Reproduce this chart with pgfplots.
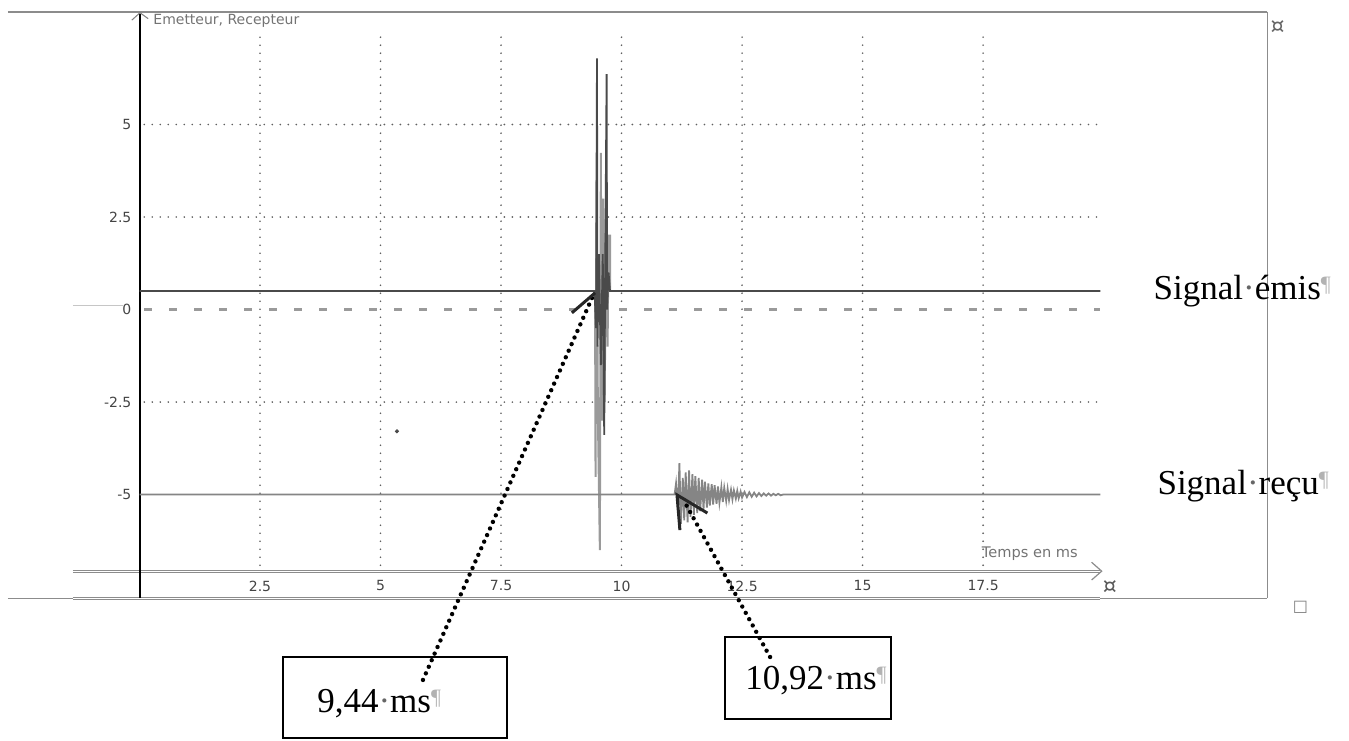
\documentclass[border=0pt]{standalone}
\usepackage{pgfplots}
\pgfplotsset{compat=1.18}
\usepackage{fontspec}
\setmainfont{Liberation Serif}
\newfontfamily\dv{DejaVu Sans}
\definecolor{trace}{HTML}{4A4A4A}
\definecolor{lighttrace}{HTML}{9A9A9A}
\definecolor{rtrace}{HTML}{858585}
\definecolor{gridc}{HTML}{606060}
\definecolor{framec}{HTML}{8C8C8C}
\definecolor{tickc}{HTML}{444444}
\newcommand{\bigtxt}{\fontsize{17.5}{20}\selectfont}
\newcommand{\pil}{{\color{gray!60}\fontsize{11}{11}\selectfont\raisebox{4pt}{¶}}}
\newcommand{\wsp}{{\color{gray!80!black}·}}
\begin{document}
\begin{tikzpicture}
\begin{axis}[
  x=24.1pt, y=18.5pt,
  xmin=-2.73, xmax=23.39, ymin=-7.80, ymax=8.09,
  hide axis, clip=false,
]
% bounding box of the whole picture
\path (axis cs:-2.894,8.365) rectangle (axis cs:25.09,-11.64);

% frame
\draw[framec, line width=1pt] (axis cs:-2.73,8.05) -- (axis cs:23.39,8.05);
\draw[framec, line width=0.5pt] (axis cs:23.39,8.05) -- (axis cs:23.39,-7.80);
\draw[framec, line width=0.5pt] (axis cs:-2.73,-7.80) -- (axis cs:23.39,-7.80);
\draw[framec, line width=0.5pt, double=white, double distance=0.45pt] (axis cs:-1.38,-7.80) -- (axis cs:19.93,-7.80);
\draw[gray!45, line width=0.4pt] (axis cs:-1.38,0.12) -- (axis cs:-0.34,0.12);

% dotted grid
\foreach \gx in {2.5,5,7.5,10,12.5,15,17.5}{
  \edef\tmp{\noexpand\draw[gridc, line width=0.9pt, line cap=round, dash pattern=on 0pt off 4pt] (axis cs:\gx,7.36) -- (axis cs:\gx,-7.07);}\tmp
}
\foreach \gy in {5,2.5,-2.5}{
  \edef\tmp{\noexpand\draw[gridc, line width=0.9pt, line cap=round, dash pattern=on 0pt off 4pt] (axis cs:0.1,\gy) -- (axis cs:19.93,\gy);}\tmp
}
% dashed zero line
\draw[lighttrace, line width=1.1pt, dash pattern=on 4pt off 8.5pt] (axis cs:0.1,0) -- (axis cs:19.93,0);

% x axis (double line with open arrow)
\draw[framec, line width=0.5pt, double=white, double distance=0.45pt] (axis cs:-1.38,-7.07) -- (axis cs:19.93,-7.07);
\draw[framec, line width=0.6pt] (axis cs:19.75,-6.83) -- (axis cs:19.96,-7.07) -- (axis cs:19.75,-7.31);

% y axis
\draw[black, line width=1.3pt] (axis cs:0.01,-7.80) -- (axis cs:0.01,7.98);
\draw[gray, line width=0.5pt] (axis cs:-0.16,7.82) -- (axis cs:0.01,8.02) -- (axis cs:0.18,7.86);

% tick labels
\foreach \v/\l in {2.5/2.5,5/5,7.5/7.5,10/10,12.5/12.5,15/15,17.5/17.5}{
  \edef\tmp{\noexpand\node[tickc, font=\noexpand\dv\noexpand\fontsize{7}{8}\noexpand\selectfont] at (axis cs:\v,-7.47) {\l};}\tmp
}
\foreach \v/\l in {5/5,2.5/2.5,0/0,-2.5/-2.5,-5/-5}{
  \edef\tmp{\noexpand\node[tickc, anchor=east, inner sep=0pt, font=\noexpand\dv\noexpand\fontsize{7}{8}\noexpand\selectfont] at (axis cs:-0.16,\v) {\l};}\tmp
}
\node[gray!90!black, anchor=west, inner sep=0pt, font=\dv\fontsize{7}{8}\selectfont] at (axis cs:0.28,7.80) {Emetteur, Recepteur};
\node[gray!90!black, inner sep=0pt, font=\dv\fontsize{7.3}{8}\selectfont] at (axis cs:18.47,-6.61) {Temps en ms};

% emitted signal
\addplot[lighttrace, line width=1pt] coordinates {
(9.45,0.5) (9.46,-4.52) (9.48,3.5) (9.51,-3.0) (9.55,-6.5) (9.57,4.23) (9.59,-3.0)
(9.62,3.0) (9.65,-2.5) (9.68,3.0) (9.71,-1.0) (9.73,2.0) (9.76,2.0) (9.76,0.5)
};
\addplot[trace, line width=0.9pt] coordinates {
(0,0.5) (9.44,0.5) (9.47,-0.5) (9.49,6.79) (9.50,-1.0) (9.53,1.5) (9.57,-1.5)
(9.61,1.5) (9.64,-3.39) (9.66,1.0)
(9.69,6.36) (9.70,0.0) (9.73,1.0) (9.76,0.5) (19.93,0.5)
};

% received signal
\addplot[rtrace, line width=0.9pt] coordinates {
(0,-5) (11.10,-5.0) (11.13,-4.7) (11.17,-5.4) (11.20,-4.15) (11.23,-5.8)
(11.27,-4.55) (11.30,-5.7) (11.33,-4.4) (11.37,-5.75) (11.40,-4.35) (11.43,-5.6)
(11.47,-4.45) (11.50,-5.55) (11.53,-4.5) (11.57,-5.5) (11.60,-4.55) (11.63,-5.45)
(11.67,-4.6) (11.70,-5.4) (11.73,-4.65) (11.77,-5.35) (11.80,-4.7) (11.83,-5.3)
(11.87,-4.72) (11.90,-5.27) (11.93,-4.75) (11.97,-5.25) (12.00,-4.78) (12.03,-5.22)
(12.07,-4.8) (12.10,-5.2) (12.13,-4.82) (12.17,-5.17) (12.20,-4.85) (12.23,-5.15)
(12.27,-4.87) (12.30,-5.13) (12.33,-4.89) (12.37,-5.11) (12.40,-4.9) (12.43,-5.1)
(12.47,-4.92) (12.50,-5.08) (12.55,-4.93) (12.60,-5.07) (12.65,-4.94) (12.70,-5.06)
(12.75,-4.95) (12.80,-5.05) (12.85,-4.96) (12.90,-5.04) (12.95,-4.97) (13.00,-5.03)
(13.05,-4.97) (13.10,-5.03) (13.15,-4.98) (13.20,-5.02) (13.25,-4.98) (13.30,-5.02)
(13.35,-5.0) (19.93,-5.0)
};

% stray dot
\addplot[only marks, mark=*, mark size=0.8pt, trace] coordinates {(5.34,-3.29)};

% right side labels
\node[anchor=base west, inner sep=0pt, font=\bigtxt] at (axis cs:21.03,0.26) {Signal\wsp émis\pil};
\node[anchor=base west, inner sep=0pt, font=\bigtxt] at (axis cs:21.11,-4.99) {Signal\wsp reçu\pil};

% Word markers
\node[gray!80!black, inner sep=0pt, font=\dv\fontsize{11}{11}\selectfont] at (axis cs:23.61,7.63) {¤};
\node[gray!70!black, inner sep=0pt, font=\dv\fontsize{11}{11}\selectfont] at (axis cs:20.13,-7.5) {¤};
\node[gray, inner sep=0pt, font=\dv\fontsize{8}{8}\selectfont] at (axis cs:24.08,-8.04) {□};

% annotation boxes
\draw[black, line width=0.9pt] (axis cs:2.98,-9.39) rectangle (axis cs:7.62,-11.58);
\draw[black, line width=0.9pt] (axis cs:12.15,-8.85) rectangle (axis cs:15.59,-11.07);
\node[anchor=base west, inner sep=0pt, font=\bigtxt] at (axis cs:3.68,-10.88) {9,44\wsp ms\pil};
\node[anchor=base west, inner sep=0pt, font=\bigtxt] at (axis cs:12.56,-10.28) {10,92\wsp ms\pil};

% annotation arrows
\draw[black, line width=2.2pt, line cap=round, dash pattern=on 0pt off 3.6pt] (axis cs:5.88,-10.01) -- (axis cs:9.40,0.35);
\draw[black!85, line width=1.5pt] (axis cs:8.97,-0.09) -- (axis cs:9.45,0.45);
\draw[black, line width=2.2pt, line cap=round, dash pattern=on 0pt off 3.6pt] (axis cs:11.35,-5.3) -- (axis cs:13.14,-9.53);
\draw[black!85, line width=1.5pt] (axis cs:11.78,-5.5) -- (axis cs:11.15,-5.01) -- (axis cs:11.21,-5.96);
\end{axis}
\end{tikzpicture}
\end{document}
